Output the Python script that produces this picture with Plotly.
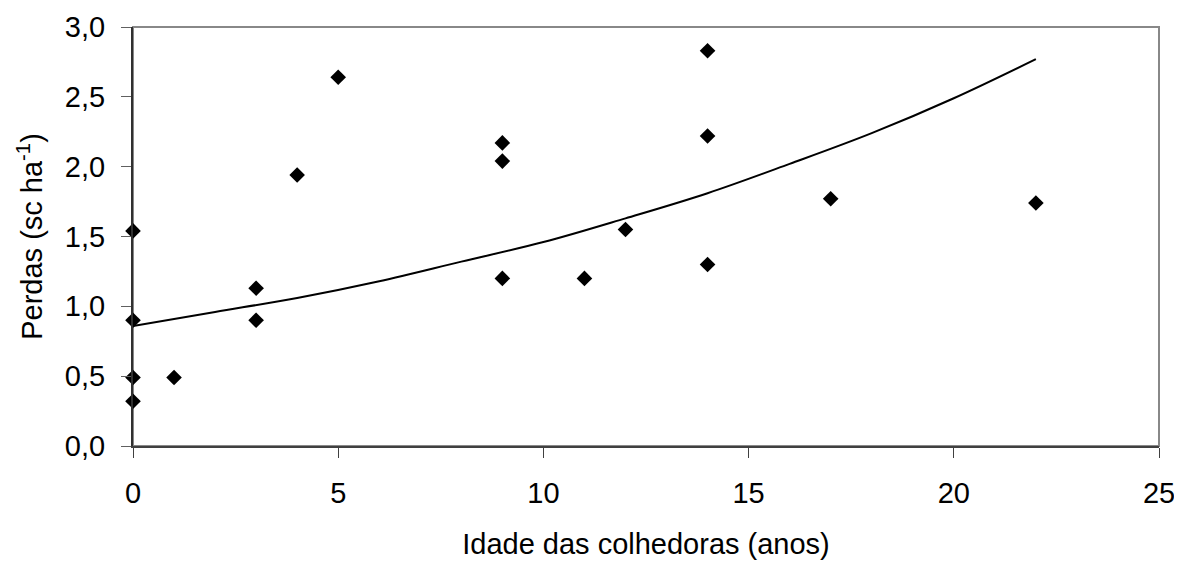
import plotly.graph_objects as go

# Observed data (age of harvester in years, losses in sc/ha)
idade = [0, 0, 0, 0, 1, 3, 3, 4, 5, 9, 9, 9, 11, 12, 14, 14, 14, 17, 22]
perdas = [1.54, 0.90, 0.49, 0.32, 0.49, 1.13, 0.90, 1.94, 2.64, 2.17, 2.04, 1.20,
          1.20, 1.55, 2.83, 2.22, 1.30, 1.77, 1.74]

# Trend curve
curva_x = [0, 2, 4, 6, 8, 10, 12, 14, 16, 18, 20, 22]
curva_y = [0.86, 0.96, 1.06, 1.18, 1.32, 1.46, 1.63, 1.81, 2.02, 2.24, 2.49, 2.77]

x_ticks = [0, 5, 10, 15, 20, 25]
y_ticks = [0.0, 0.5, 1.0, 1.5, 2.0, 2.5, 3.0]

fig = go.Figure()
fig.add_trace(go.Scatter(x=curva_x, y=curva_y, mode="lines",
                         line=dict(color="black", width=2, shape="spline"),
                         showlegend=False, hoverinfo="skip"))
fig.add_trace(go.Scatter(x=idade, y=perdas, mode="markers",
                         marker=dict(symbol="diamond", size=12, color="black"),
                         showlegend=False, cliponaxis=False))

FAM = "Liberation Sans, Arial, sans-serif"
tick_font = dict(family=FAM, size=29, color="black")
title_font = dict(family=FAM, size=29, color="black")

fig.update_layout(
    width=1182, height=562,
    margin=dict(l=125, r=31, t=19, b=124),
    paper_bgcolor="white", plot_bgcolor="white",
    separators=", ",
    font=dict(family=FAM, size=29, color="black"),
    shapes=[dict(type="rect", xref="paper", yref="paper", x0=0, y0=0, x1=1, y1=1,
                 line=dict(color="#888888", width=2), layer="below")],
)
fig.update_xaxes(range=[0, 25], tickvals=x_ticks, ticktext=[str(v) for v in x_ticks],
                 showgrid=False, zeroline=False, showline=True, linecolor="#404040", linewidth=2,
                 ticks="outside", ticklen=10, tickcolor="#404040", tickwidth=1,
                 tickfont=tick_font, automargin=False, ticklabelstandoff=10,
                 title=dict(text="Idade das colhedoras (anos)", font=title_font, standoff=26))
fig.update_yaxes(range=[0, 3], tickvals=y_ticks, ticktext=[f"{v:.1f}".replace(".", ",") for v in y_ticks],
                 showgrid=False, zeroline=False, showline=True, linecolor="#303030", linewidth=2,
                 ticks="outside", ticklen=10, tickcolor="#606060", tickwidth=1,
                 tickfont=tick_font, automargin=False, ticklabelstandoff=10,
                 title=dict(text="Perdas (sc ha<sup>-1</sup>)", font=title_font, standoff=14))

fig.write_html("out.html")
